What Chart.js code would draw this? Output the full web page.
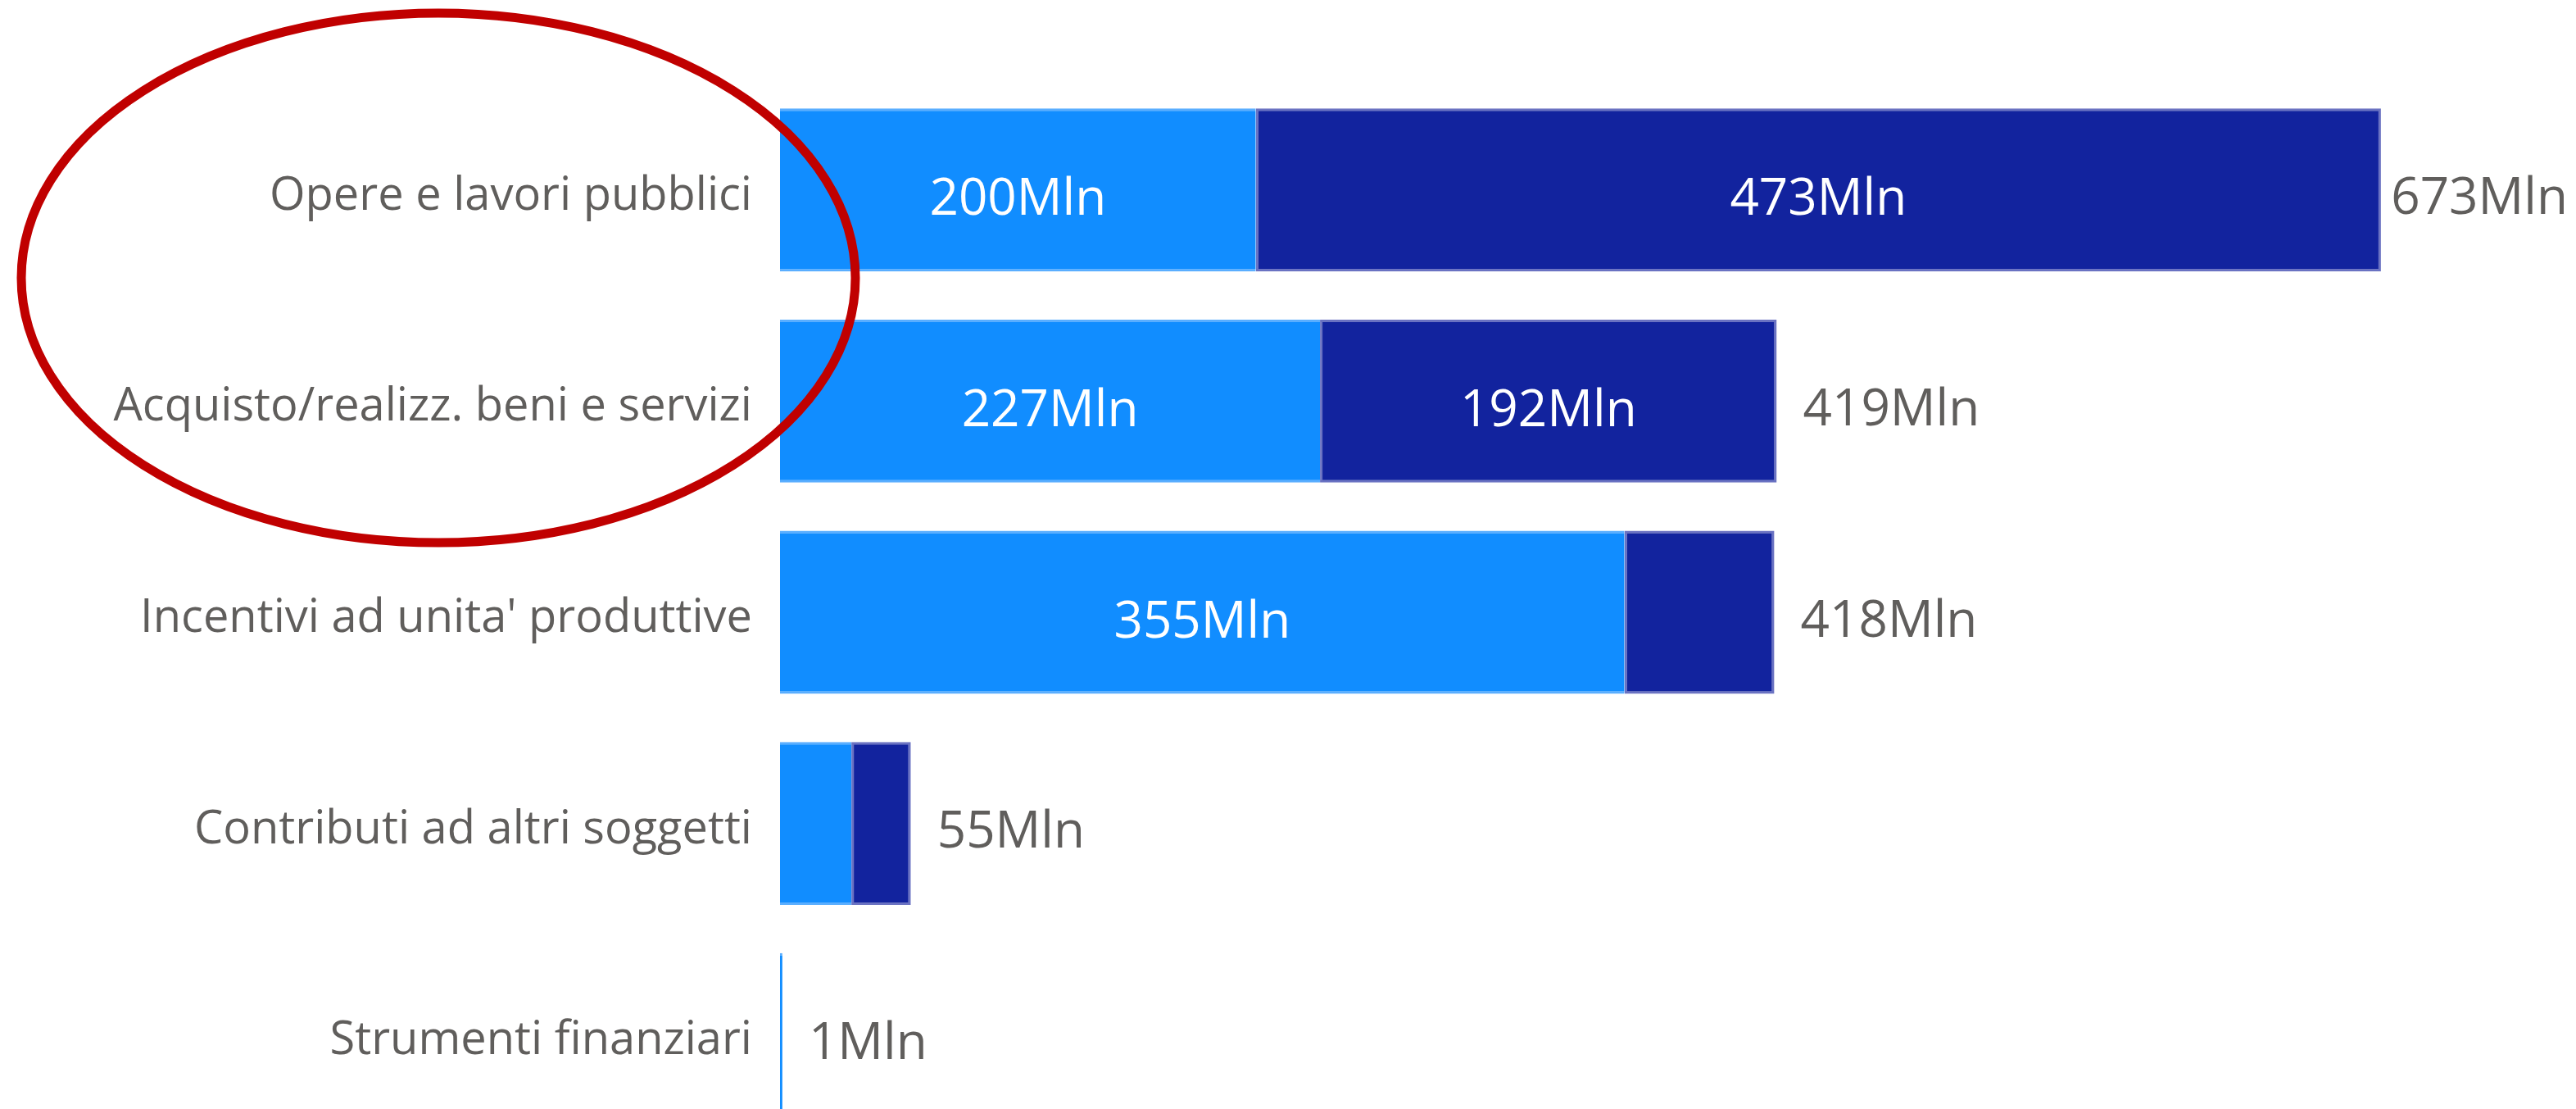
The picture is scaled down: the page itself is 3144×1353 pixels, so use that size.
<!DOCTYPE html>
<html>
<head>
<meta charset="utf-8">
<script src="https://cdn.jsdelivr.net/npm/chart.js@4/dist/chart.umd.min.js"></script>
<style>
html,body{margin:0;padding:0;background:#fff;overflow:hidden;}
#wrap{width:3144px;height:1353px;overflow:hidden;position:relative;}
canvas{display:block;width:3144px;height:1400px;}
</style>
</head>
<body>
<div id="wrap"><canvas id="c" width="3144" height="1400"></canvas></div>
<script>
const categories = ["Opere e lavori pubblici","Acquisto/realizz. beni e servizi","Incentivi ad unita' produttive","Contributi ad altri soggetti","Strumenti finanziari"];
const seriesA = [200, 227, 355, 30, 1];
const seriesB = [473, 192, 63, 25, 0];
const totals = [673, 419, 418, 55, 1];
const unit = "Mln";

const FONT = "'Open Sans', 'Noto Sans', sans-serif";
const CAT_SIZE = 56;
const VAL_SIZE = 62;
const GREY = "#605E5C";
const CANVAS_W = 3144;

const labelPlugin = {
  id: 'labels',
  afterDatasetsDraw(chart) {
    const ctx = chart.ctx;
    const xs = chart.scales.x;
    ctx.save();
    ctx.font = VAL_SIZE + "px " + FONT;
    ctx.textBaseline = 'middle';
    [0,1].forEach(di => {
      const meta = chart.getDatasetMeta(di);
      const vals = chart.data.datasets[di].data;
      meta.data.forEach((bar, i) => {
        const v = vals[i];
        if (!v) return;
        const txt = v + unit;
        const w = ctx.measureText(txt).width;
        const left = Math.min(bar.x, bar.base), right = Math.max(bar.x, bar.base);
        if (right - left >= w + 40) {
          ctx.fillStyle = '#ffffff';
          ctx.textAlign = 'center';
          ctx.fillText(txt, (left + right) / 2, bar.y + 13);
        }
      });
    });
    const meta0 = chart.getDatasetMeta(0);
    totals.forEach((t, i) => {
      const y = meta0.data[i].y;
      const txt = t + unit;
      const w = ctx.measureText(txt).width;
      let x = xs.getPixelForValue(t) + 32;
      x = Math.min(x, CANVAS_W - w - 10);
      ctx.fillStyle = GREY;
      ctx.textAlign = 'left';
      ctx.fillText(txt, x, y + 12);
    });
    ctx.restore();
  },
  afterDraw(chart) {
    const ctx = chart.ctx;
    ctx.save();
    ctx.strokeStyle = '#C00000';
    ctx.lineWidth = 11;
    ctx.beginPath();
    ctx.ellipse(535, 339, 509, 323, 0, 0, Math.PI * 2);
    ctx.stroke();
    ctx.restore();
  }
};

new Chart(document.getElementById('c'), {
  type: 'bar',
  data: {
    labels: categories,
    datasets: [
      { data: seriesA, backgroundColor: '#118DFF', borderColor: '#5AAEFF',
        borderWidth: {top: 3, bottom: 3, left: 0, right: 0}, borderSkipped: false },
      { data: seriesB, backgroundColor: '#12239E', borderColor: '#6A72C2',
        borderWidth: {top: 3, bottom: 3, left: 3, right: 3}, borderSkipped: false }
    ]
  },
  options: {
    indexAxis: 'y',
    responsive: false,
    maintainAspectRatio: false,
    animation: false,
    devicePixelRatio: 1,
    layout: { padding: { top: 103, bottom: 9, left: 0, right: 0 } },
    plugins: { legend: { display: false }, tooltip: { enabled: false } },
    datasets: { bar: { categoryPercentage: 1, barPercentage: 0.772 } },
    scales: {
      x: { stacked: true, display: false, min: 0, max: 755 },
      y: {
        stacked: true,
        grid: { display: false, drawTicks: false },
        border: { display: false },
        ticks: { padding: 34, labelOffset: 8, color: GREY, font: { family: FONT, size: CAT_SIZE } },
        afterFit(scale) { scale.width = 952; scale.paddingTop = 0; scale.paddingBottom = 0; }
      }
    }
  },
  plugins: [labelPlugin]
});
</script>
</body>
</html>
